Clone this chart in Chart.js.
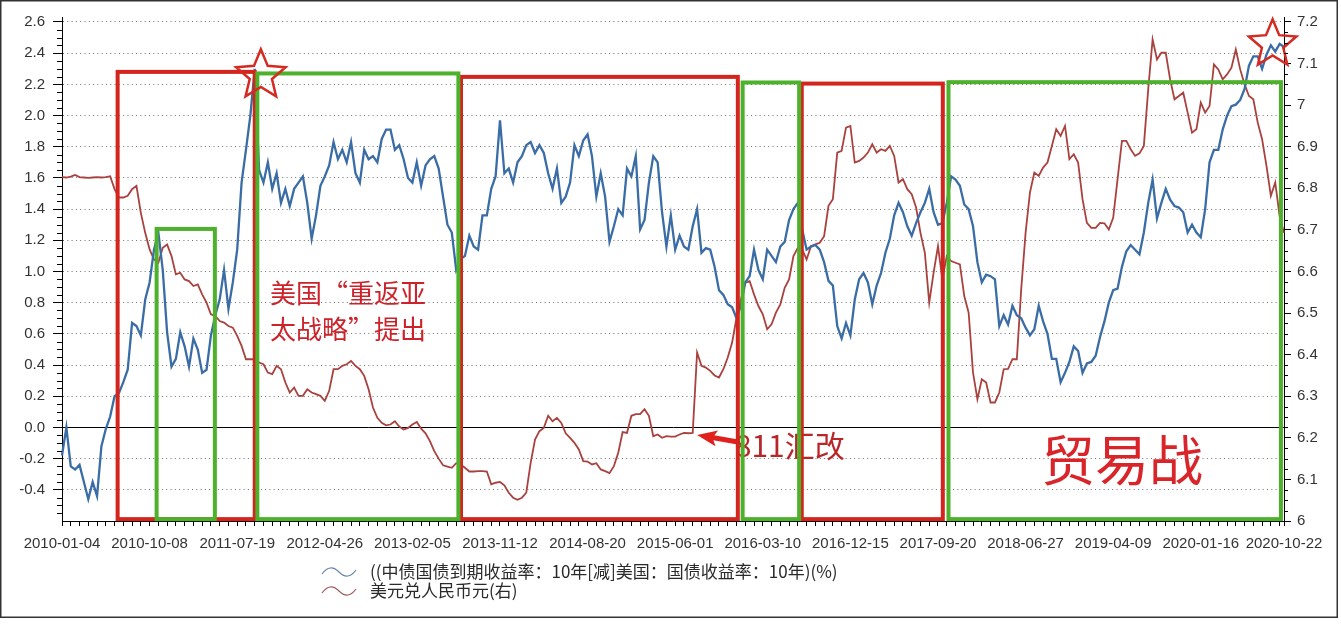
<!DOCTYPE html>
<html>
<head>
<meta charset="utf-8">
<script src="https://cdn.jsdelivr.net/npm/chart.js@4.4.1/dist/chart.umd.min.js"></script>
<style>
html,body{margin:0;padding:0;background:#fff;}
canvas{display:block;}
</style>
</head>
<body>
<canvas id="c" width="1341" height="633"></canvas>
<script>
// ---------- DATA ----------
const tickDates = ['2010-01-04','2010-10-08','2011-07-19','2012-04-26','2013-02-05','2013-11-12','2014-08-20','2015-06-01','2016-03-10','2016-12-15','2017-09-20','2018-06-27','2019-04-09','2020-01-16','2020-10-22'];
const tickIndex = [0,20,40,60,80,100,120,140,160,180,200,220,240,260,279];

const seriesNames = ['((中债国债到期收益率：10年[减]美国：国债收益率：10年)(%)', '美元兑人民币元(右)'];

// China-US 10Y yield spread (%), left axis
const spread = [
 -0.18,0.00,-0.25,-0.27,-0.24,-0.35,-0.46,-0.35,-0.44,-0.12,-0.01,
 0.07,0.20,0.22,0.29,0.37,0.67,0.65,0.59,0.82,0.93,
 1.14,1.25,1.01,0.61,0.39,0.44,0.61,0.52,0.39,0.57,
 0.50,0.35,0.37,0.59,0.72,0.82,1.01,0.76,0.93,1.14,
 1.57,1.78,2.00,2.30,1.65,1.57,1.70,1.53,1.63,1.44,
 1.53,1.42,1.53,1.57,1.61,1.44,1.21,1.36,1.55,1.61,
 1.68,1.83,1.72,1.78,1.70,1.83,1.63,1.57,1.78,1.72,
 1.74,1.70,1.85,1.91,1.91,1.78,1.81,1.72,1.60,1.57,
 1.70,1.55,1.68,1.72,1.74,1.66,1.48,1.30,1.25,1.01,
 1.08,1.10,1.23,1.16,1.14,1.36,1.36,1.53,1.61,1.97,
 1.63,1.66,1.57,1.70,1.74,1.81,1.83,1.76,1.81,1.76,
 1.63,1.53,1.66,1.44,1.48,1.57,1.81,1.74,1.84,1.88,
 1.74,1.48,1.63,1.48,1.19,1.29,1.40,1.36,1.66,1.61,
 1.74,1.27,1.33,1.57,1.74,1.70,1.38,1.16,1.36,1.14,
 1.23,1.16,1.14,1.29,1.40,1.12,1.15,1.14,1.03,0.88,
 0.85,0.79,0.77,0.70,0.78,0.93,0.97,1.14,1.01,0.95,
 1.14,1.10,1.06,1.16,1.19,1.33,1.40,1.44,1.27,1.14,
 1.16,1.17,1.14,1.06,0.94,0.91,0.65,0.57,0.67,0.59,
 0.82,0.95,0.99,0.93,0.79,0.91,0.99,1.12,1.21,1.36,
 1.44,1.38,1.29,1.23,1.31,1.38,1.44,1.53,1.38,1.30,
 1.31,1.44,1.61,1.59,1.55,1.43,1.40,1.29,1.06,0.93,
 0.98,0.97,0.95,0.65,0.72,0.66,0.78,0.72,0.70,0.64,
 0.59,0.63,0.78,0.68,0.60,0.44,0.44,0.29,0.35,0.42,
 0.52,0.49,0.35,0.41,0.42,0.46,0.58,0.68,0.80,0.88,
 0.89,1.03,1.13,1.17,1.14,1.11,1.25,1.44,1.59,1.34,
 1.44,1.53,1.46,1.42,1.41,1.38,1.25,1.30,1.25,1.22,
 1.40,1.70,1.78,1.78,1.91,2.00,2.06,2.07,2.10,2.17,
 2.32,2.38,2.38,2.30,2.39,2.45,2.41,2.46,2.44
];

// USD/CNY, right axis
const usdCny = [
 6.827,6.826,6.828,6.832,6.827,6.826,6.825,6.826,6.827,6.826,6.827,
 6.829,6.798,6.778,6.778,6.782,6.798,6.806,6.741,6.693,6.653,
 6.629,6.621,6.657,6.665,6.637,6.593,6.597,6.581,6.577,6.565,
 6.569,6.545,6.525,6.497,6.493,6.481,6.477,6.469,6.465,6.445,
 6.421,6.389,6.389,6.389,6.381,6.377,6.357,6.353,6.373,6.365,
 6.333,6.309,6.321,6.301,6.301,6.317,6.309,6.305,6.301,6.289,
 6.313,6.365,6.365,6.373,6.377,6.385,6.373,6.365,6.349,6.317,
 6.273,6.248,6.236,6.230,6.232,6.240,6.227,6.220,6.224,6.232,
 6.238,6.222,6.211,6.192,6.168,6.150,6.134,6.131,6.128,6.139,
 6.136,6.128,6.119,6.119,6.120,6.120,6.119,6.088,6.092,6.094,
 6.086,6.068,6.056,6.051,6.056,6.068,6.140,6.196,6.216,6.224,
 6.253,6.240,6.248,6.236,6.211,6.200,6.188,6.172,6.144,6.143,
 6.136,6.139,6.124,6.120,6.115,6.132,6.164,6.214,6.212,6.253,
 6.257,6.257,6.269,6.253,6.204,6.208,6.200,6.204,6.203,6.203,
 6.208,6.212,6.211,6.212,6.405,6.373,6.369,6.361,6.350,6.345,
 6.365,6.393,6.429,6.489,6.533,6.573,6.577,6.545,6.517,6.497,
 6.461,6.473,6.501,6.521,6.561,6.581,6.637,6.657,6.653,6.629,
 6.661,6.665,6.669,6.685,6.758,6.774,6.886,6.890,6.946,6.950,
 6.862,6.866,6.874,6.886,6.906,6.886,6.894,6.890,6.902,6.878,
 6.814,6.822,6.798,6.786,6.754,6.693,6.645,6.525,6.597,6.661,
 6.581,6.637,6.625,6.621,6.617,6.541,6.501,6.357,6.293,6.341,
 6.333,6.285,6.285,6.309,6.365,6.366,6.389,6.389,6.557,6.693,
 6.790,6.838,6.830,6.850,6.862,6.902,6.942,6.926,6.950,6.870,
 6.882,6.862,6.774,6.717,6.705,6.705,6.717,6.716,6.701,6.729,
 6.822,6.914,6.914,6.894,6.878,6.884,6.902,7.038,7.158,7.110,
 7.126,7.126,7.062,7.014,7.022,7.030,6.982,6.934,6.942,7.006,
 6.982,6.998,7.098,7.086,7.062,7.074,7.090,7.134,7.086,7.050,
 7.022,7.014,6.958,6.918,6.854,6.782,6.814,6.733,6.693
];

const leftMajor = [-0.4,-0.2,0,0.2,0.4,0.6,0.8,1.0,1.2,1.4,1.6,1.8,2.0,2.2,2.4,2.6];
const rightMajor = [6,6.1,6.2,6.3,6.4,6.5,6.6,6.7,6.8,6.9,7,7.1,7.2];

// ---------- ANNOTATIONS (in data units: x = sample index, y = left axis) ----------
const RED = '#d3251d', GREEN = '#4db12b';
const boxes = [
  {from:12.7, to:44.0, top:2.28, color:RED},
  {from:91.1, to:154.3, top:2.248, color:RED},
  {from:168.9, to:201.1, top:2.205, color:RED},
  {from:21.6, to:34.9, top:1.273, color:GREEN},
  {from:44.6, to:90.5, top:2.27, color:GREEN},
  {from:155.4, to:168.3, top:2.212, color:GREEN},
  {from:202.4, to:278.3, top:2.214, color:GREEN}
];
const boxBottom = -0.588;
const stars = [{x:45.4, y:2.258, r:26}, {x:276.4, y:2.457, r:25}];
const texts = [
  {x:47.5, y:0.86, text:'美国“重返亚', size:26, color:'#cc2229'},
  {x:47.5, y:0.63, text:'太战略”提出', size:26, color:'#cc2229'},
  {x:153.6, y:-0.118, text:'811汇改', size:30, color:'#b8262a'},
  {x:223.5, y:-0.214, text:'贸易战', size:54, color:'#d9252a'}
];
const arrow = {fromX:154.3, fromY:-0.093, toX:145.0, toY:-0.048};

// ---------- BUILD ----------
const N = spread.length;
const labels = spread.map((_, i) => { const k = tickIndex.indexOf(i); return k >= 0 ? tickDates[k] : ''; });
const near = (a, b) => Math.abs(a - b) < 1e-6;
const isLeftMajor = v => leftMajor.some(m => near(m, v));
const isRightMajor = v => rightMajor.some(m => near(m, v));

const bgPlugin = {
  id: 'bg',
  beforeDraw(chart) {
    const c = chart.ctx; c.save(); c.fillStyle = '#fff'; c.fillRect(0, 0, chart.width, chart.height); c.restore();
  }
};

// short minor tick marks on both value axes (positions from the library scales)
const minorTickPlugin = {
  id: 'minorTicks',
  afterDraw(chart) {
    const c = chart.ctx, ys = chart.scales.y, y1 = chart.scales.y1;
    c.save(); c.strokeStyle = '#000'; c.lineWidth = 1;
    c.beginPath();
    ys.ticks.forEach(t => {
      if (isLeftMajor(t.value) || near(t.value, -0.6)) return;
      const p = Math.round(ys.getPixelForValue(t.value)) + 0.5;
      c.moveTo(ys.right - 5, p); c.lineTo(ys.right, p);
    });
    y1.ticks.forEach(t => {
      if (isRightMajor(t.value)) return;
      const p = Math.round(y1.getPixelForValue(t.value)) + 0.5;
      c.moveTo(y1.left, p); c.lineTo(y1.left + 4, p);
    });
    c.stroke(); c.restore();
  }
};

const annoPlugin = {
  id: 'anno',
  afterDatasetsDraw(chart) {
    const c = chart.ctx, xs = chart.scales.x, ys = chart.scales.y;
    const px = v => xs.getPixelForValue(v), py = v => ys.getPixelForValue(v);
    c.save();
    texts.forEach(t => {
      c.font = t.size + 'px "Noto Sans CJK SC"';
      c.fillStyle = t.color; c.textBaseline = 'middle'; c.textAlign = 'left';
      c.fillText(t.text, px(t.x), py(t.y));
    });
    const ax0 = px(arrow.fromX), ay0 = py(arrow.fromY), ax1 = px(arrow.toX), ay1 = py(arrow.toY);
    const ang = Math.atan2(ay1 - ay0, ax1 - ax0);
    const L = Math.hypot(ax1 - ax0, ay1 - ay0);
    c.translate(ax0, ay0); c.rotate(ang);
    c.beginPath();
    c.moveTo(0, -2.5); c.lineTo(L - 17, -2.5); c.lineTo(L - 20, -8); c.lineTo(L, 0);
    c.lineTo(L - 20, 8); c.lineTo(L - 17, 2.5); c.lineTo(0, 2.5); c.closePath();
    c.fillStyle = '#e0201c'; c.fill();
    c.setTransform(1, 0, 0, 1, 0, 0);
    boxes.forEach(b => {
      c.strokeStyle = b.color; c.lineWidth = 4;
      c.strokeRect(px(b.from), py(b.top), px(b.to) - px(b.from), py(boxBottom) - py(b.top));
    });
    stars.forEach(s => {
      const cx = px(s.x), cy = py(s.y), R = s.r, r = R * 0.45;
      c.beginPath();
      for (let k = 0; k < 10; k++) {
        const a = -Math.PI / 2 + k * Math.PI / 5;
        const rr = k % 2 === 0 ? R : r;
        const X = cx + rr * Math.cos(a), Y = cy + rr * Math.sin(a);
        k === 0 ? c.moveTo(X, Y) : c.lineTo(X, Y);
      }
      c.closePath();
      c.strokeStyle = '#d42a22'; c.lineWidth = 2.5; c.lineJoin = 'miter'; c.stroke();
    });
    c.restore();
  }
};

const legendPlugin = {
  id: 'customLegend',
  afterDraw(chart) {
    const c = chart.ctx;
    c.save();
    const rows = [{y:572, color:'#6583b0'}, {y:591, color:'#a05a5a'}];
    chart.data.datasets.forEach((ds, i) => {
      const y = rows[i].y;
      c.beginPath();
      c.moveTo(322, y + 2);
      c.quadraticCurveTo(330, y - 9, 339, y);
      c.quadraticCurveTo(348, y + 9, 356, y - 2);
      c.strokeStyle = rows[i].color; c.lineWidth = 1.2; c.stroke();
      c.font = '17px "Noto Sans CJK SC"';
      c.fillStyle = '#2a2a2a'; c.textBaseline = 'middle'; c.textAlign = 'left';
      c.fillText(ds.label, 370, y);
    });
    c.strokeStyle = '#333'; c.lineWidth = 1.5;
    c.strokeRect(0.75, 0.75, 1336.5, 616.5);
    c.restore();
  }
};

const tickFont = {family: '"Liberation Sans", Arial, sans-serif', size: 15};

new Chart(document.getElementById('c'), {
  type: 'line',
  data: {
    labels,
    datasets: [
      {label: seriesNames[0], data: spread, yAxisID: 'y', borderColor: '#3a6ca6', borderWidth: 2.3, pointRadius: 0, tension: 0, fill: false},
      {label: seriesNames[1], data: usdCny, yAxisID: 'y1', borderColor: '#a9423e', borderWidth: 1.8, pointRadius: 0, tension: 0, fill: false}
    ]
  },
  options: {
    responsive: false, animation: false, devicePixelRatio: 1,
    layout: {padding: {top: 15, left: 0, right: 0, bottom: 0}},
    plugins: {legend: {display: false}, tooltip: {enabled: false}},
    scales: {
      x: {
        type: 'category', offset: false,
        grid: {drawOnChartArea: false, drawTicks: true, tickLength: 5, color: 'rgba(0,0,0,0)',
               tickColor: c => (c.index % 2 === 0 || c.index === N - 1) ? '#000' : 'rgba(0,0,0,0)'},
        border: {display: true, color: '#000', width: 1},
        ticks: {autoSkip: false, maxRotation: 0, minRotation: 0, padding: 9, color: '#333',
                font: tickFont,
                callback: (v, i) => labels[i]},
        afterFit: s => { s.height = 112; }
      },
      y: {
        position: 'left', min: -0.6, max: 2.632,
        afterBuildTicks: s => { const t = []; for (let k = 0; k <= 64; k++) t.push({value: Math.round((-0.6 + k * 0.05) * 100) / 100}); s.ticks = t; },
        grid: {drawOnChartArea: true, drawTicks: true, tickLength: 9, lineWidth: 1,
               tickColor: c => (c.tick && isLeftMajor(c.tick.value)) ? '#000' : 'rgba(0,0,0,0)',
               color: c => {
                 if (!c.tick) return 'rgba(0,0,0,0)';
                 const v = c.tick.value;
                 if (near(v, 0)) return '#000';
                 if (isLeftMajor(v)) return '#707070';
                 return 'rgba(0,0,0,0)';
               }},
        border: {display: true, color: '#000', width: 1,
                 dash: c => (c.tick && !near(c.tick.value, 0)) ? [1, 3.3] : []},
        ticks: {autoSkip: false, padding: 8, color: '#333', font: tickFont,
                callback: v => isLeftMajor(v) ? v.toFixed(1) : ''},
        afterFit: s => { s.width = 62; }
      },
      y1: {
        position: 'right', min: 6, max: 7.212,
        afterBuildTicks: s => { const t = []; for (let k = 0; k <= 48; k++) t.push({value: Math.round((6 + k * 0.025) * 1000) / 1000}); s.ticks = t; },
        grid: {drawOnChartArea: false, drawTicks: true, tickLength: 7, color: '#000',
               tickColor: c => (c.tick && isRightMajor(c.tick.value)) ? '#000' : 'rgba(0,0,0,0)'},
        border: {display: true, color: '#000', width: 1},
        ticks: {autoSkip: false, padding: 6, color: '#333', font: tickFont,
                callback: v => isRightMajor(v) ? String(Number(v.toFixed(1))) : ''},
        afterFit: s => { s.width = 57; }
      }
    }
  },
  plugins: [bgPlugin, annoPlugin, minorTickPlugin, legendPlugin]
});
</script>
</body>
</html>
